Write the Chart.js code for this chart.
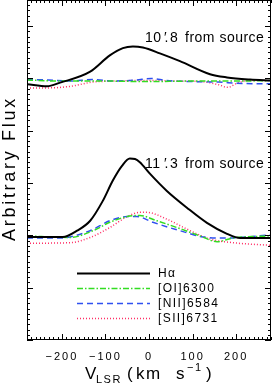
<!DOCTYPE html>
<html>
<head>
<meta charset="utf-8">
<script src="https://cdn.jsdelivr.net/npm/chart.js@4"></script>
<style>
  html, body { margin: 0; padding: 0; background: #fff; }
  canvas { display: block; }
</style>
</head>
<body>
<canvas id="spectra" width="272" height="387"></canvas>
<script>
// Line profiles at two offsets from the source, arbitrary flux, stacked.

// 10'.8 from source (upper set)
const haVel108 = [-280, -234, -204, -135, -90, -60, -37, -14, 25, 71, 140, 179, 232, 280];
const haFlux108 = [4.89, 4.85, 4.92, 5.13, 5.44, 5.58, 5.61, 5.59, 5.48, 5.33, 5.08, 5.02, 4.98, 4.96];
const oiVel108 = [-280, -200, -100, 0, 100, 200, 280];
const oiFlux108 = [4.97, 4.95, 4.95, 4.94, 4.95, 4.95, 4.96];
const niiVel108 = [-280, -230, -180, -130, -80, -30, 5, 40, 100, 160, 200, 240, 280];
const niiFlux108 = [4.98, 4.97, 4.95, 4.98, 4.95, 4.97, 5.0, 4.96, 4.94, 4.93, 4.91, 4.90, 4.90];
const siiVel108 = [-280, -230, -180, -130, -80, -30, 20, 70, 120, 160, 180, 205, 230, 280];
const siiFlux108 = [4.82, 4.82, 4.85, 4.93, 4.95, 4.96, 4.96, 4.95, 4.94, 4.88, 4.83, 4.92, 4.96, 4.96];

// 11'.3 from source (lower set)
const haVel113 = [-280, -198, -165, -135, -106, -83, -62, -44, -32, -21, 2, 41, 87, 133, 179, 209, 280];
const haFlux113 = [1.97, 1.97, 2.09, 2.28, 2.66, 3.05, 3.33, 3.47, 3.46, 3.40, 3.18, 2.85, 2.53, 2.24, 2.03, 1.95, 1.95];
const oiVel113 = [-280, -181, -128, -90, -50, -21, 18, 71, 117, 156, 193, 280];
const oiFlux113 = [1.99, 1.96, 2.09, 2.25, 2.36, 2.38, 2.28, 2.13, 1.99, 1.88, 1.95, 1.99];
const niiVel113 = [-280, -204, -135, -90, -50, -28, 9, 71, 133, 179, 280];
const niiFlux113 = [1.95, 1.95, 2.09, 2.28, 2.36, 2.36, 2.25, 2.09, 1.96, 1.95, 2.01];
const siiVel113 = [-280, -181, -135, -90, -50, -21, -5, 41, 87, 140, 193, 280];
const siiFlux113 = [1.85, 1.86, 1.96, 2.15, 2.36, 2.44, 2.44, 2.31, 2.12, 1.93, 1.86, 1.81];

const lineNames = ['H\u03b1', '[OI]6300', '[NII]6584', '[SII]6731'];
const panelLabels = [['10', '8', 'from source'], ['11', '3', 'from source']];
const xTickValues = [-200, -100, 0, 100, 200];

const FONT = '"Liberation Sans", Arial, sans-serif';
const STYLES = [
    { color: '#000000', dash: [], width: 2 },
    { color: '#33dd22', dash: [6, 2, 1.5, 2], width: 1.5 },
    { color: '#2f50f0', dash: [6, 4], width: 1.5 },
    { color: '#ff2f66', dash: [1, 2], width: 1.5 }
];

const pts = (xs, ys) => xs.map((x, i) => ({ x, y: ys[i] }));

const series = [
    [haVel108, haFlux108, 0], [oiVel108, oiFlux108, 1], [niiVel108, niiFlux108, 2], [siiVel108, siiFlux108, 3],
    [haVel113, haFlux113, 0], [oiVel113, oiFlux113, 1], [niiVel113, niiFlux113, 2], [siiVel113, siiFlux113, 3]
];

const datasets = series.map(([xs, ys, k]) => ({
    data: pts(xs, ys),
    borderColor: STYLES[k].color,
    borderDash: STYLES[k].dash,
    borderWidth: STYLES[k].width,
    pointRadius: 0,
    cubicInterpolationMode: 'monotone',
    fill: false
}));

// frame, inward ticks, legend and the hand-placed text
const decor = {
    id: 'decor',
    beforeDraw(chart) {
        chart.ctx.letterSpacing = '2px';
    },
    beforeDatasetsDraw(chart) {
        chart.ctx.letterSpacing = '0px';
    },
    afterDraw(chart) {
        const { ctx, chartArea: a, scales: { x, y } } = chart;
        ctx.save();
        ctx.strokeStyle = '#000';
        ctx.lineWidth = 1;
        ctx.setLineDash([]);
        ctx.strokeRect(a.left + 0.5, a.top + 0.5, a.right - a.left - 1, a.bottom - a.top - 1);

        ctx.beginPath();
        for (let v = -280; v <= 280; v += 10) {
            const px = Math.round(x.getPixelForValue(v)) + 0.5;
            const len = v % 100 === 0 ? 6 : 3;
            ctx.moveTo(px, a.bottom); ctx.lineTo(px, a.bottom - len);
            ctx.moveTo(px, a.top); ctx.lineTo(px, a.top + len);
        }
        for (let i = 0; i <= 65; i++) {
            const py = Math.round(y.getPixelForValue(i / 10)) + 0.5;
            const len = i % 10 === 0 ? 6 : 3;
            ctx.moveTo(a.left, py); ctx.lineTo(a.left + len, py);
            ctx.moveTo(a.right, py); ctx.lineTo(a.right - len, py);
        }
        ctx.stroke();

        // legend
        ctx.font = '12px ' + FONT;
        ctx.letterSpacing = '1.4px';
        ctx.textBaseline = 'middle';
        ctx.fillStyle = '#000';
        lineNames.forEach((name, i) => {
            const ly = 273.5 + i * 15;
            ctx.beginPath();
            ctx.strokeStyle = STYLES[i].color;
            ctx.lineWidth = STYLES[i].width;
            ctx.setLineDash(STYLES[i].dash);
            ctx.moveTo(77, ly); ctx.lineTo(150, ly);
            ctx.stroke();
            ctx.fillText(name, 158, ly);
        });
        ctx.setLineDash([]);

        // offset labels
        ctx.font = '14px ' + FONT;
        ctx.letterSpacing = '0.5px';
        ctx.textBaseline = 'alphabetic';
        panelLabels.forEach(([a1, a2, rest], i) => {
            const base = i === 0 ? 42 : 168;
            ctx.fillText(a1, 145, base);
            ctx.fillText('\u2032', 164, base);
            ctx.fillText('.', 164.5, base);
            ctx.fillText(a2, 170, base);
            ctx.fillText(rest, 185, base);
        });

        // x title with sub/superscripts
        ctx.letterSpacing = '1.5px';
        const put = (t, px, size, dy) => {
            ctx.font = size + 'px ' + FONT;
            ctx.fillText(t, px, 379 + dy);
        };
        put('V', 85, 17, 0);
        put('LSR', 96, 11, 4);
        put('(', 127, 17, 0);
        put('km', 136, 17, 0);
        put('s', 176, 17, 0);
        put('\u22121', 187, 11, -8);
        put(')', 206, 17, 0);

        // y title
        ctx.translate(15, 168.5);
        ctx.rotate(-Math.PI / 2);
        ctx.font = '18px ' + FONT;
        ctx.letterSpacing = '2.7px';
        ctx.textAlign = 'center';
        ctx.fillText('Arbitrary Flux', 0, 0);
        ctx.restore();
    }
};

new Chart(document.getElementById('spectra'), {
    type: 'line',
    data: { datasets },
    plugins: [decor],
    options: {
        responsive: false,
        animation: false,
        devicePixelRatio: 1,
        layout: { padding: { top: 0, right: 1, left: 0, bottom: 0 } },
        plugins: { legend: { display: false }, tooltip: { enabled: false } },
        scales: {
            x: {
                type: 'linear',
                min: -280,
                max: 280,
                grid: { display: false, drawTicks: false },
                border: { display: false },
                afterFit: (s) => { s.height = 47; s.paddingLeft = 0; s.paddingRight = 0; },
                ticks: {
                    stepSize: 10,
                    autoSkip: false,
                    maxRotation: 0,
                    padding: 10,
                    color: '#000',
                    font: { family: FONT, size: 11 },
                    callback: (v) => xTickValues.includes(v) ? String(v).replace('-', '\u2212') : ''
                }
            },
            y: {
                min: 0,
                max: 6.5,
                grid: { display: false, drawTicks: false },
                border: { display: false },
                ticks: { display: false },
                afterFit: (s) => { s.width = 27; }
            }
        }
    }
});
</script>
</body>
</html>
